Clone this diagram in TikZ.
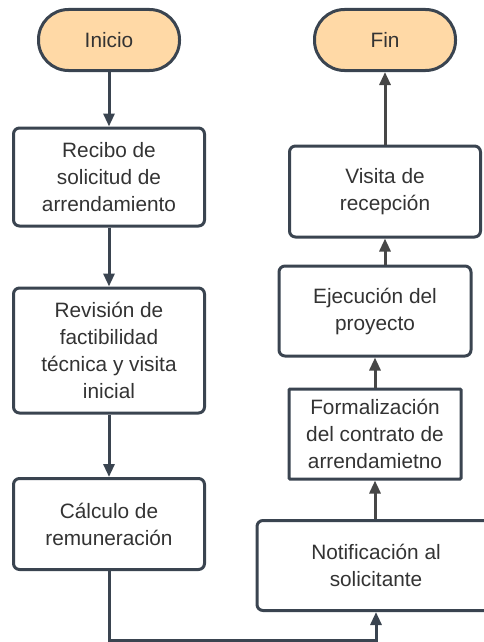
\documentclass[tikz,border=0pt]{standalone}
\usepackage{fontspec}
\setmainfont{Liberation Sans}
\usepackage{tikz}
\usetikzlibrary{arrows.meta, positioning}

\definecolor{lineblue}{HTML}{3A4450}
\definecolor{linegray}{HTML}{474747}
\definecolor{termfill}{HTML}{FFD9A6}
\definecolor{textgray}{HTML}{333333}

\tikzset{
	terminal/.style={draw=lineblue, line width=3pt, fill=termfill, rounded corners=30pt,
		minimum width=141pt, minimum height=61pt, text=textgray, font=\fontsize{20.8}{27}\selectfont},
	process/.style={draw=lineblue, line width=3pt, fill=white, rounded corners=6pt,
		align=center, text=textgray, font=\fontsize{20.8}{27}\selectfont},
	flow/.style={-{Triangle[length=13pt, width=11pt]}, line width=3pt, draw=lineblue},
	flowgray/.style={flow, draw=linegray}
}

\begin{document}
\begin{tikzpicture}[x=1pt, y=-1pt]
				\useasboundingbox (0, 0) rectangle (484, 642);

				% left column
				\node[terminal] (inicio) at (109, 40) {Inicio};
				\node[process, minimum width=191pt, minimum height=98pt] (recibo) at (109, 177) {Recibo de\\solicitud de\\arrendamiento};
				\node[process, minimum width=191pt, minimum height=125pt] (revision) at (109, 350.5) {Revisión de\\factibilidad\\técnica y visita\\inicial};
				\node[process, minimum width=191pt, minimum height=91pt] (calculo) at (109, 524) {Cálculo de\\remuneración};

				% right column
				\node[process, minimum width=238pt, minimum height=90pt] (notif) at (376, 565.5) {Notificación al\\solicitante};
				\node[process, rounded corners=1pt, minimum width=172pt, minimum height=90pt] (formal) at (375, 434) {Formalización\\del contrato de\\arrendamietno};
				\node[process, minimum width=192pt, minimum height=90pt] (ejecucion) at (375, 311) {Ejecución del\\proyecto};
				\node[process, minimum width=191pt, minimum height=91pt] (visita) at (385, 191.5) {Visita de\\recepción};
				\node[terminal] (fin) at (385, 40) {Fin};

				\coordinate (turn) at (109, 640);

				\draw[flow] (inicio) -- (recibo);
				\draw[flow] (recibo) -- (revision);
				\draw[flow] (revision) -- (calculo);
				\draw[flow] (calculo.south) -- (turn) -| (notif.south);
				\draw[flowgray] (notif.north -| formal.south) -- (formal.south);
				\draw[flowgray] (formal) -- (ejecucion);
				\draw[flowgray] (visita.south |- ejecucion.north) -- (visita.south);
				\draw[flowgray] (visita) -- (fin);

			\end{tikzpicture}
\end{document}
